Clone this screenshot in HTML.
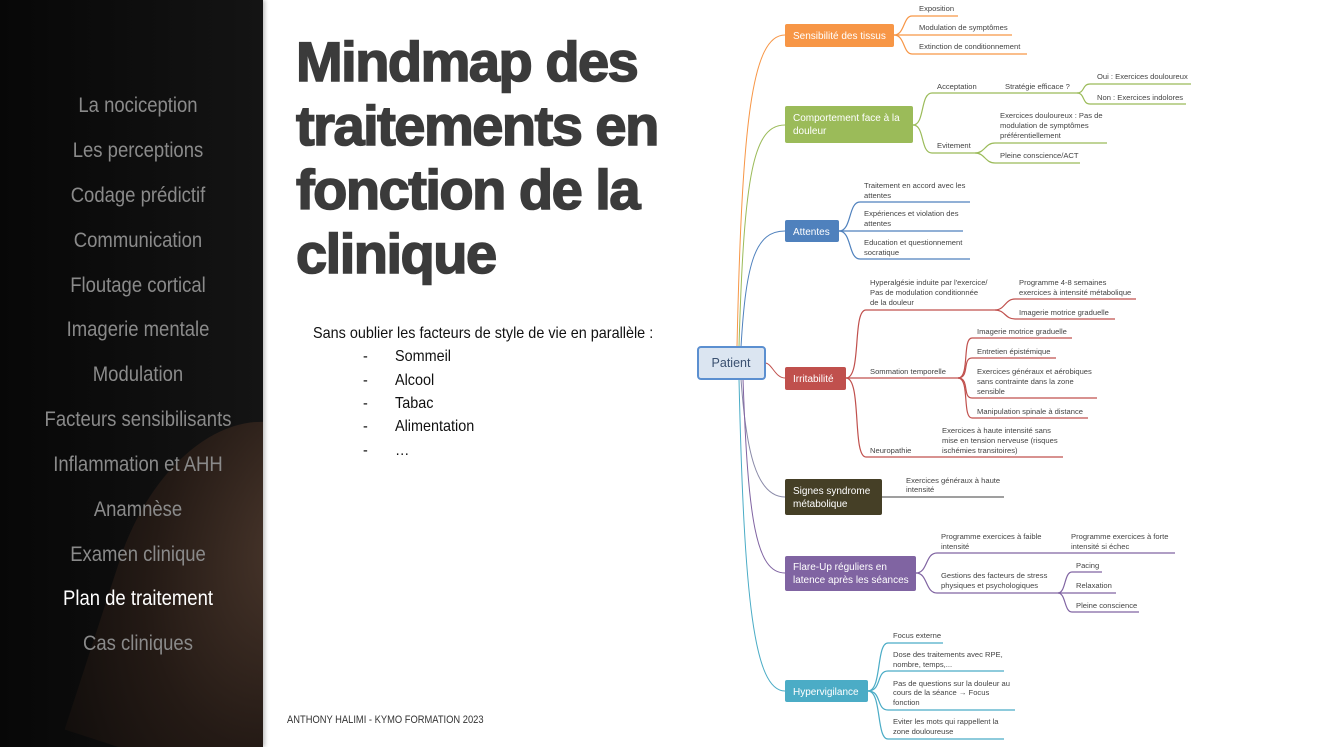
<!DOCTYPE html>
<html><head><meta charset="utf-8"><style>
html,body{margin:0;width:1324px;height:747px;overflow:hidden}
body{background:#fff;position:relative;font-family:"Liberation Sans",sans-serif}
#side{position:absolute;left:0;top:0;width:263px;height:747px;background:linear-gradient(90deg,#070707,#141414);overflow:hidden;box-shadow:2px 0 4px rgba(0,0,0,.25)}
#shoulder{position:absolute;left:175px;top:390px;width:230px;height:357px;border-radius:50% 0 0 0;background:radial-gradient(ellipse at 70% 30%,#4a372c,#241a15 60%,#120e0c);transform:rotate(18deg);transform-origin:top left}
.m{position:absolute;left:0;width:276px;text-align:center;font-size:21px;color:#8a8a8a;transform:translateY(-50%) scaleX(.88)}
.t{position:absolute;left:296px;font-weight:bold;font-size:56px;letter-spacing:-1.5px;color:#3b3b3b;line-height:64px;-webkit-text-stroke:1.6px #3b3b3b;white-space:nowrap}
.n{position:absolute;font-size:16px;color:#111;transform:scaleX(.9);transform-origin:left top;white-space:nowrap}
svg text{font-family:"Liberation Sans",sans-serif}
</style></head><body>
<div id="side"><div id="shoulder"></div>
<div class="m" style="top:106px">La nociception</div>
<div class="m" style="top:151px">Les perceptions</div>
<div class="m" style="top:196px">Codage prédictif</div>
<div class="m" style="top:241px">Communication</div>
<div class="m" style="top:286px">Floutage cortical</div>
<div class="m" style="top:330px">Imagerie mentale</div>
<div class="m" style="top:375px">Modulation</div>
<div class="m" style="top:420px">Facteurs sensibilisants</div>
<div class="m" style="top:465px">Inflammation et AHH</div>
<div class="m" style="top:510px">Anamnèse</div>
<div class="m" style="top:555px">Examen clinique</div>
<div class="m" style="top:599px;color:#fff">Plan de traitement</div>
<div class="m" style="top:644px">Cas cliniques</div>
</div>
<div class="t" style="top:30px">Mindmap des<br>traitements en<br>fonction de la<br>clinique</div>
<div class="n" style="left:313px;top:325px">Sans oublier les facteurs de style de vie en parallèle :</div>
<div class="n" style="left:363px;top:348px">-</div><div class="n" style="left:395px;top:348px">Sommeil</div>
<div class="n" style="left:363px;top:372px">-</div><div class="n" style="left:395px;top:372px">Alcool</div>
<div class="n" style="left:363px;top:395px">-</div><div class="n" style="left:395px;top:395px">Tabac</div>
<div class="n" style="left:363px;top:418px">-</div><div class="n" style="left:395px;top:418px">Alimentation</div>
<div class="n" style="left:363px;top:442px">-</div><div class="n" style="left:395px;top:442px">…</div>
<div class="n" style="left:287px;top:714px;font-size:11px;color:#333;transform:scaleX(.85)">ANTHONY HALIMI - KYMO FORMATION 2023</div>

<svg width="1324" height="747" style="position:absolute;left:0;top:0" font-size="7.6" fill="#444">
<g fill="none" stroke-width="1">
<path d="M737 347 C742 120,752 35,785 35" stroke="#f79646"/>
<path d="M739 347 C744 170,754 125,785 125" stroke="#9bbb59"/>
<path d="M741 347 C746 260,756 231,785 231" stroke="#4f81bd"/>
<path d="M765 363 C772 363,775 378,785 378" stroke="#c0504d"/>
<path d="M741 379 C746 450,756 497,785 497" stroke="#8a8aa8"/>
<path d="M743 379 C748 520,756 573,785 573" stroke="#8064a2"/>
<path d="M739 379 C744 600,754 691,785 691" stroke="#4bacc6"/>
</g>
<g fill="none" stroke="#f79646" stroke-width="1.2">
<path d="M894 35 C905 35,903 16,912 16 H958"/><path d="M894 35 H1012"/><path d="M894 35 C905 35,903 54,912 54 H1027"/>
</g>
<g fill="none" stroke="#9bbb59" stroke-width="1.2">
<path d="M913 125 C925 125,920 93,932 93 H1077"/><path d="M1077 93 C1085 93,1082 84,1090 84 H1191"/><path d="M1077 93 C1085 93,1082 104,1090 104 H1186"/>
<path d="M913 125 C925 125,920 153,932 153 H975"/><path d="M975 153 C985 153,985 143,995 143 H1107"/><path d="M975 153 C985 153,985 163,995 163 H1080"/>
</g>
<g fill="none" stroke="#4f81bd" stroke-width="1.2">
<path d="M839 231 C852 231,848 202,860 202 H970"/><path d="M839 231 H963"/><path d="M839 231 C852 231,848 259,860 259 H970"/>
</g>
<g fill="none" stroke="#c0504d" stroke-width="1.2">
<path d="M846 378 C862 378,852 310,866 310 H995"/><path d="M846 378 H958"/><path d="M846 378 C862 378,852 457,866 457 H1063"/>
<path d="M995 310 C1005 310,1005 299,1015 299 H1136"/><path d="M995 310 C1005 310,1005 319,1015 319 H1115"/>
<path d="M958 378 C970 378,962 338,972 338 H1072"/><path d="M958 378 C970 378,962 358,972 358 H1056"/><path d="M958 378 C970 378,962 398,972 398 H1097"/><path d="M958 378 C970 378,962 418,972 418 H1088"/>
</g>
<path d="M882 497 H1004" stroke="#666" stroke-width="1.2"/>
<g fill="none" stroke="#8064a2" stroke-width="1.2">
<path d="M916 573 C928 573,925 553,937 553 H1175"/><path d="M916 573 C928 573,925 593,937 593 H1058"/>
<path d="M1058 593 C1066 593,1064 572,1072 572 H1102"/><path d="M1058 593 H1116"/><path d="M1058 593 C1066 593,1064 612,1072 612 H1139"/>
</g>
<g fill="none" stroke="#4bacc6" stroke-width="1.2">
<path d="M868 691 C882 691,876 643,888 643 H943"/><path d="M868 691 C882 691,876 671,888 671 H1004"/><path d="M868 691 C882 691,876 710,888 710 H1015"/><path d="M868 691 C882 691,876 739,888 739 H1004"/>
</g>
<rect x="698" y="347" width="67" height="32" rx="3" fill="#dbe5f1" stroke="#5b8fd0" stroke-width="2"/>
<text x="731" y="367" font-size="12.5" fill="#3a5070" text-anchor="middle">Patient</text>
<g font-size="10" fill="#fff">
<rect x="785" y="24" width="109" height="23" rx="2" fill="#f79646"/><text x="793" y="39">Sensibilité des tissus</text>
<rect x="785" y="106" width="128" height="37" rx="2" fill="#9bbb59"/><text x="793" y="121">Comportement face à la</text><text x="793" y="134">douleur</text>
<rect x="785" y="220" width="54" height="22" rx="2" fill="#4f81bd"/><text x="793" y="235">Attentes</text>
<rect x="785" y="367" width="61" height="23" rx="2" fill="#c0504d"/><text x="793" y="382">Irritabilité</text>
<rect x="785" y="479" width="97" height="36" rx="2" fill="#453f26"/><text x="793" y="494">Signes syndrome</text><text x="793" y="507">métabolique</text>
<rect x="785" y="556" width="131" height="35" rx="2" fill="#8064a2"/><text x="793" y="570">Flare-Up réguliers en</text><text x="793" y="583">latence après les séances</text>
<rect x="785" y="680" width="83" height="22" rx="2" fill="#4bacc6"/><text x="793" y="695">Hypervigilance</text>
</g>
<text x="919" y="11">Exposition</text><text x="919" y="30">Modulation de symptômes</text><text x="919" y="49">Extinction de conditionnement</text>
<text x="937" y="89">Acceptation</text><text x="1005" y="89">Stratégie efficace ?</text><text x="1097" y="79">Oui : Exercices douloureux</text><text x="1097" y="100">Non : Exercices indolores</text>
<text x="937" y="148">Evitement</text><text x="1000" y="118">Exercices douloureux : Pas de</text><text x="1000" y="128">modulation de symptômes</text><text x="1000" y="138">préférentiellement</text><text x="1000" y="158">Pleine conscience/ACT</text>
<text x="864" y="188">Traitement en accord avec les</text><text x="864" y="198">attentes</text>
<text x="864" y="216">Expériences et violation des</text><text x="864" y="226">attentes</text>
<text x="864" y="245">Education et questionnement</text><text x="864" y="255">socratique</text>
<text x="870" y="285">Hyperalgésie induite par l'exercice/</text><text x="870" y="295">Pas de modulation conditionnée</text><text x="870" y="305">de la douleur</text>
<text x="1019" y="285">Programme 4-8 semaines</text><text x="1019" y="295">exercices à intensité métabolique</text><text x="1019" y="315">Imagerie motrice graduelle</text>
<text x="870" y="374">Sommation temporelle</text>
<text x="977" y="334">Imagerie motrice graduelle</text><text x="977" y="354">Entretien épistémique</text>
<text x="977" y="374">Exercices généraux et aérobiques</text><text x="977" y="384">sans contrainte dans la zone</text><text x="977" y="394">sensible</text>
<text x="977" y="414">Manipulation spinale à distance</text>
<text x="870" y="453">Neuropathie</text>
<text x="942" y="433">Exercices à haute intensité sans</text><text x="942" y="443">mise en tension nerveuse (risques</text><text x="942" y="453">ischémies transitoires)</text>
<text x="906" y="483">Exercices généraux à haute</text><text x="906" y="492">intensité</text>
<text x="941" y="539">Programme exercices à faible</text><text x="941" y="549">intensité</text>
<text x="1071" y="539">Programme exercices à forte</text><text x="1071" y="549">intensité si échec</text>
<text x="941" y="578">Gestions des facteurs de stress</text><text x="941" y="588">physiques et psychologiques</text>
<text x="1076" y="568">Pacing</text><text x="1076" y="588">Relaxation</text><text x="1076" y="608">Pleine conscience</text>
<text x="893" y="638">Focus externe</text>
<text x="893" y="657">Dose des traitements avec RPE,</text><text x="893" y="667">nombre, temps,...</text>
<text x="893" y="686">Pas de questions sur la douleur au</text><text x="893" y="695">cours de la séance → Focus</text><text x="893" y="705">fonction</text>
<text x="893" y="724">Eviter les mots qui rappellent la</text><text x="893" y="734">zone douloureuse</text>
</svg>
</body></html>
